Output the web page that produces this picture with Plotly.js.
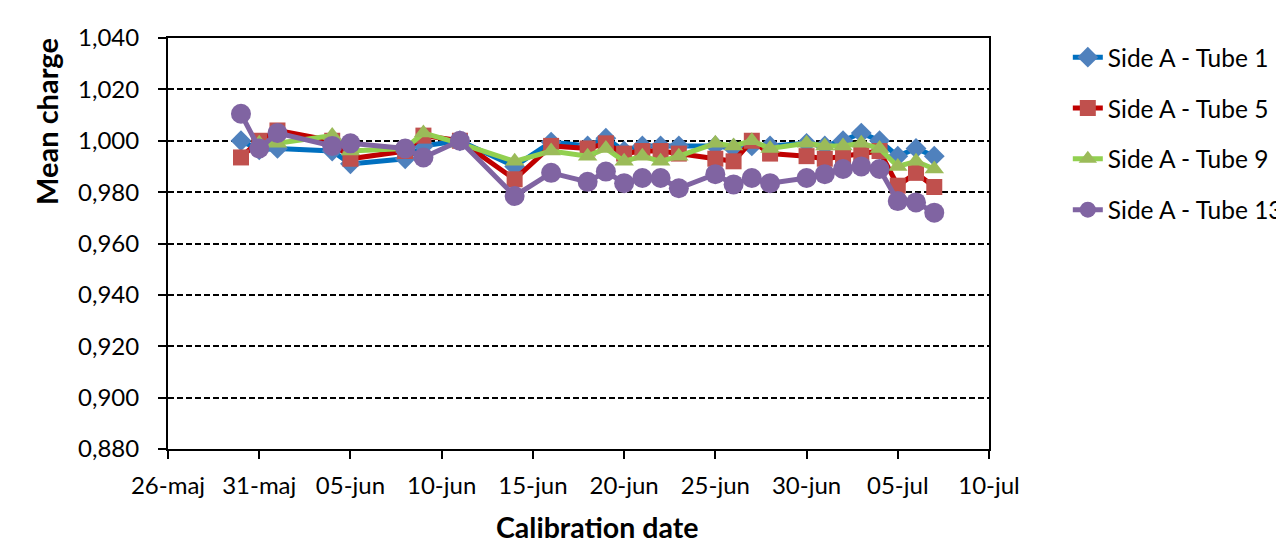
<!DOCTYPE html>
<html>
<head>
<meta charset="utf-8">
<script src="https://cdn.plot.ly/plotly-3.0.1.min.js"></script>
<style>
  html, body { margin: 0; padding: 0; background: #ffffff; }
  #chart { width: 1276px; height: 545px; }
</style>
</head>
<body>
<div id="chart"></div>
<script>
// Calibration dates (year not shown on the axis)
const calibrationDates = [
  "2011-05-30", "2011-05-31", "2011-06-01", "2011-06-04", "2011-06-05",
  "2011-06-08", "2011-06-09", "2011-06-11", "2011-06-14", "2011-06-16",
  "2011-06-18", "2011-06-19", "2011-06-20", "2011-06-21", "2011-06-22",
  "2011-06-23", "2011-06-25", "2011-06-26", "2011-06-27", "2011-06-28",
  "2011-06-30", "2011-07-01", "2011-07-02", "2011-07-03", "2011-07-04",
  "2011-07-05", "2011-07-06", "2011-07-07"
];

// Mean charge per tube
const tube1 = [
  1.000, 0.9965, 0.997, 0.996, 0.991,
  0.993, 0.998, 1.000, 0.990, 0.9995,
  0.998, 1.001, 0.996, 0.998, 0.998,
  0.998, 0.998, 0.997, 0.998, 0.998,
  0.999, 0.998, 1.000, 1.003, 1.000,
  0.994, 0.997, 0.994
];
const tube5 = [
  0.9935, 1.000, 1.004, 1.000, 0.993,
  0.996, 1.002, 1.000, 0.985, 0.998,
  0.997, 0.999, 0.995, 0.996, 0.996,
  0.995, 0.993, 0.992, 1.000, 0.995,
  0.994, 0.993, 0.994, 0.995, 0.996,
  0.9825, 0.9875, 0.982
];
const tube9 = [
  null, 0.999, 0.999, 1.002, 0.996,
  0.997, 1.003, 0.999, 0.992, 0.996,
  0.994, 0.997, 0.992, 0.994, 0.992,
  0.994, 0.999, 0.998, 1.000, 0.997,
  0.999, 0.998, 0.998, 0.999, 0.997,
  0.990, 0.992, 0.989
];
const tube13 = [
  1.0105, 0.997, 1.003, 0.998, 0.999,
  0.997, 0.9935, 1.000, 0.9785, 0.9875,
  0.984, 0.988, 0.9835, 0.9855, 0.9855,
  0.9815, 0.987, 0.983, 0.9855, 0.9835,
  0.9855, 0.987, 0.989, 0.990, 0.989,
  0.9765, 0.976, 0.972
];

const seriesNames = ["Side A - Tube 1", "Side A - Tube 5", "Side A - Tube 9", "Side A - Tube 13"];

// Axis ticks
const xTickDates = [
  "2011-05-26", "2011-05-31", "2011-06-05", "2011-06-10", "2011-06-15",
  "2011-06-20", "2011-06-25", "2011-06-30", "2011-07-05", "2011-07-10"
];
const xTickLabels = [
  "26-maj", "31-maj", "05-jun", "10-jun", "15-jun",
  "20-jun", "25-jun", "30-jun", "05-jul", "10-jul"
];

const FONT = "Lato, 'Open Sans', sans-serif";

function series(name, y, lineColor, markerColor, symbol, size, group) {
  return {
    type: "scatter",
    mode: "lines+markers",
    name: name,
    legendgroup: group,
    x: calibrationDates,
    y: y,
    line: { color: lineColor, width: 5 },
    marker: { color: markerColor, symbol: symbol, size: size, line: { width: 0 } },
    connectgaps: false,
    cliponaxis: false
  };
}

const traces = [
  series(seriesNames[0], tube1, "#0070C0", "#4F81BD", "diamond", 16, "g1"),
  series(seriesNames[1], tube5, "#C00000", "#C0504D", "square", 16, "g2"),
  series(seriesNames[2], tube9, "#92D050", "#9BBB59", "triangle-up", 17, "g3"),
  series(seriesNames[3], tube13, "#8064A2", "#8064A2", "circle", 20, "g4")
];

const layout = {
  width: 1276,
  height: 545,
  paper_bgcolor: "#ffffff",
  plot_bgcolor: "#ffffff",
  separators: ", ",
  font: { family: FONT, size: 24, color: "#000000" },
  // fixed plot frame; the legend is allowed to run past the right edge
  margin: { l: 168, r: 287, t: 38, b: 96, pad: 0, autoexpand: false },
  showlegend: true,
  legend: {
    x: 1.096, xanchor: "left",
    y: 1.008, yanchor: "top",
    traceorder: "grouped",
    tracegroupgap: 16,
    font: { family: FONT, size: 24.5, color: "#000000" },
    bgcolor: "rgba(0,0,0,0)"
  },
  xaxis: {
    type: "date",
    range: ["2011-05-26", "2011-07-10"],
    tickmode: "array",
    tickvals: xTickDates,
    ticktext: xTickLabels,
    showgrid: false,
    zeroline: false,
    showline: true,
    mirror: true,
    linecolor: "#000000",
    linewidth: 2,
    ticks: "outside",
    ticklen: 8,
    tickwidth: 2,
    tickcolor: "#000000",
    ticklabelstandoff: 6,
    tickfont: { family: FONT, size: 24, color: "#000000" }
  },
  yaxis: {
    range: [0.88, 1.04],
    dtick: 0.02,
    tick0: 0.88,
    tickformat: ".3f",
    showgrid: true,
    gridcolor: "#000000",
    gridwidth: 2,
    griddash: "6px,3px",
    zeroline: false,
    showline: true,
    mirror: true,
    linecolor: "#000000",
    linewidth: 2,
    ticks: "outside",
    ticklen: 8,
    tickwidth: 2,
    tickcolor: "#000000",
    ticklabelstandoff: 14,
    tickfont: { family: FONT, size: 24, color: "#000000" }
  },
  annotations: [
    {
      text: "Mean charge",
      xref: "paper", yref: "paper",
      x: -0.148, y: 0.797,
      xanchor: "center", yanchor: "middle",
      textangle: -90,
      showarrow: false,
      font: { family: FONT, size: 29, color: "#000000", weight: "bold" }
    },
    {
      text: "Calibration date",
      xref: "paper", yref: "paper",
      x: 0.5225, y: -0.19,
      xanchor: "center", yanchor: "middle",
      showarrow: false,
      font: { family: FONT, size: 28.5, color: "#000000", weight: "bold" }
    }
  ]
};

Plotly.newPlot("chart", traces, layout, { displayModeBar: false, staticPlot: true });
</script>
</body>
</html>
